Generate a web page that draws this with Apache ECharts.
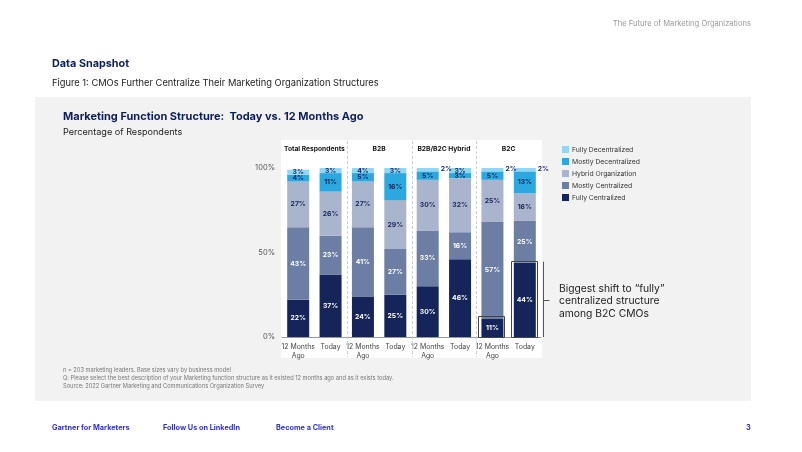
<!DOCTYPE html>
<html><head><meta charset="utf-8">
<script src="https://cdn.jsdelivr.net/npm/echarts@6/dist/echarts.min.js"></script>
<style>html,body{margin:0;padding:0;background:#fff}#c{width:802px;height:452px}</style>
</head><body><div id="c"></div>
<script>
const categories = ['12 Months\nAgo','Today','12 Months\nAgo','Today','12 Months\nAgo','Today','12 Months\nAgo','Today'];
const groups = ['Total Respondents','B2B','B2B/B2C Hybrid','B2C'];
const yTicks = [0, 50, 100];
const fullyCentralized   = [22, 37, 24, 25, 30, 46, 11, 44];
const mostlyCentralized  = [43, 23, 41, 27, 33, 16, 57, 25];
const hybridOrg          = [27, 26, 27, 29, 30, 32, 25, 16];
const mostlyDecentral    = [4, 11, 5, 16, 5, 3, 5, 13];
const fullyDecentral     = [3, 3, 4, 3, 2, 3, 2, 2];
const seriesNames = ['Fully Centralized','Mostly Centralized','Hybrid Organization','Mostly Decentralized','Fully Decentralized'];
const highlightIdx = [6, 7];

const FONT = 'Inter, "Liberation Sans", sans-serif';
const colors = ['#15255a','#6c7ea4','#a9b5cc','#2aa8df','#90d6f5'];
const labelColors = ['#fff','#fff','#15255a','#15255a','#15255a'];
const seriesData = [fullyCentralized, mostlyCentralized, hybridOrg, mostlyDecentral, fullyDecentral];

const chart = echarts.init(document.getElementById('c'), null, {renderer:'canvas'});

function mk(i){
  return {
    name: seriesNames[i], type:'bar', stack:'s', barWidth:22,
    xAxisIndex:0, yAxisIndex:0,
    itemStyle:{color:colors[i]},
    data: seriesData[i].map(v => v <= 2 ? {value:v, label:{position:'right', color:'#15255a', offset:[-3,-1]}} : v),
    label:{show:true, position:'inside', formatter:'{c}%', color:labelColors[i], fontSize:6.8, fontWeight:'bold', fontFamily:FONT}
  };
}

const option = {
  animation:false,
  backgroundColor:'#ffffff',
  grid:{left:282, right:261, top:168, bottom:115},
  legend:{
    orient:'vertical', left:562, top:146, padding:0, itemWidth:7, itemHeight:7, itemGap:5,
    data:seriesNames.slice().reverse(), icon:'rect',
    textStyle:{fontSize:6.8, color:'#333', fontFamily:FONT, padding:[0,0,0,-2]}
  },
  xAxis:[{
    type:'category', data:categories, position:'bottom',
    axisLine:{show:true, lineStyle:{color:'#999', width:1}},
    axisTick:{show:false},
    axisLabel:{interval:0, fontSize:6.9, color:'#444', fontFamily:FONT, margin:5, lineHeight:9.5}
  },{
    type:'category', data:groups, position:'top',
    axisLine:{show:false}, axisTick:{show:false},
    axisLabel:{interval:0, hideOverlap:false, fontSize:6.7, fontWeight:'bold', color:'#111', fontFamily:FONT, margin:16}
  }],
  yAxis:{
    type:'value', min:0, max:100, interval:50,
    axisLabel:{formatter:'{value}%', fontSize:7.5, color:'#555', fontFamily:FONT, margin:7},
    splitLine:{show:false}, axisLine:{show:false}, axisTick:{show:false}
  },
  series: seriesData.map((d,i)=>mk(i))
};
chart.setOption(option);

const gfx = [];
gfx.push({type:'rect', z:-10, shape:{x:35,y:97,width:716,height:304}, style:{fill:'#f2f2f2'}});
gfx.push({type:'rect', z:-9, shape:{x:281,y:140,width:261,height:218}, style:{fill:'#ffffff'}});
const px = i => chart.convertToPixel({xAxisIndex:0}, i);
[1,3,5].forEach(i=>{
  const x = Math.round((px(i)+px(i+1))/2)+0.5;
  gfx.push({type:'line', z:5, shape:{x1:x,y1:141,x2:x,y2:357}, style:{stroke:'#cfcfcf', lineWidth:1, lineDash:[3,2]}});
});
highlightIdx.forEach(i=>{
  const x = px(i);
  const y0 = chart.convertToPixel({yAxisIndex:0}, 0);
  const y1 = chart.convertToPixel({yAxisIndex:0}, fullyCentralized[i]);
  gfx.push({type:'rect', z:20, shape:{x:Math.round(x-13)-0.5, y:Math.round(y1-2)+0.5, width:26, height:Math.round(y0-y1)+2}, style:{fill:'none', stroke:'#444', lineWidth:1}});
});
{
  const y0 = chart.convertToPixel({yAxisIndex:0}, 0);
  const y1 = chart.convertToPixel({yAxisIndex:0}, fullyCentralized[7]);
  const bx = 543.5;
  gfx.push({type:'line', z:20, shape:{x1:bx,y1:y1-1,x2:bx,y2:y0}, style:{stroke:'#555', lineWidth:1}});
  const my = Math.round((y1+y0)/2)+0.5;
  gfx.push({type:'line', z:20, shape:{x1:bx,y1:my,x2:bx+6,y2:my}, style:{stroke:'#555', lineWidth:1}});
  gfx.push({type:'text', z:20, left:559, top:my-18, style:{text:'Biggest shift to “fully”\ncentralized structure\namong B2C CMOs', fontSize:10.3, lineHeight:12.5, fill:'#222', fontFamily:FONT}});
}
gfx.push({type:'text', right:51, top:20, style:{text:'The Future of Marketing Organizations', fontSize:7.6, fill:'#9a9a9a', fontFamily:FONT}});
gfx.push({type:'text', left:52, top:58, style:{text:'Data Snapshot', fontSize:10.8, fontWeight:'bold', fill:'#0c1f5c', fontFamily:FONT}});
gfx.push({type:'text', left:52, top:79, style:{text:'Figure 1: CMOs Further Centralize Their Marketing Organization Structures', fontSize:9.3, fill:'#222', fontFamily:FONT}});
gfx.push({type:'text', left:63, top:111, style:{text:'Marketing Function Structure:  Today vs. 12 Months Ago', fontSize:11, fontWeight:'bold', fill:'#0c1f5c', fontFamily:FONT}});
gfx.push({type:'text', left:63, top:128, style:{text:'Percentage of Respondents', fontSize:9.1, fill:'#222', fontFamily:FONT}});
gfx.push({type:'text', left:63, top:366, style:{text:'n = 203 marketing leaders. Base sizes vary by business model\nQ: Please select the best description of your Marketing function structure as it existed 12 months ago and as it exists today.\nSource: 2022 Gartner Marketing and Communications Organization Survey', fontSize:5.7, lineHeight:8, fill:'#777', fontFamily:FONT}});
const link = {fontSize:7.3, fontWeight:'bold', fill:'#2f2fd8', fontFamily:FONT};
gfx.push({type:'text', left:52, top:424.5, style:Object.assign({text:'Gartner for Marketers'}, link)});
gfx.push({type:'text', left:163, top:424.5, style:Object.assign({text:'Follow Us on LinkedIn'}, link)});
gfx.push({type:'text', left:276, top:424.5, style:Object.assign({text:'Become a Client'}, link)});
gfx.push({type:'text', left:746, top:424.5, style:Object.assign({text:'3'}, link)});
chart.setOption({graphic:gfx});
</script></body></html>
